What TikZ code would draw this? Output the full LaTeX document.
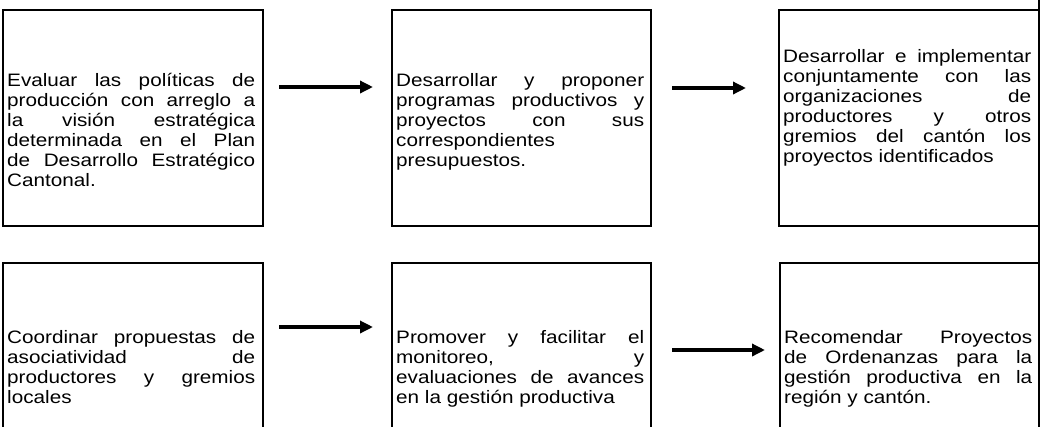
\documentclass[tikz,border=0pt]{standalone}
\usepackage{fontspec}
\setmainfont{Liberation Sans}[FakeStretch=1.15]
\usetikzlibrary{arrows.meta}
\begin{document}
\begin{tikzpicture}[x=1pt,y=-1pt,
  box/.style={draw, line width=2pt, inner sep=0pt, outer sep=0pt, anchor=north west},
  txt/.style={anchor=north west, inner sep=0pt, text width=248pt, align=justify,
    font=\fontsize{18}{20}\selectfont,
    execute at begin node={\tolerance=10000\relax\hbadness=10000\relax\hyphenpenalty=10000\relax\strut}},
  arr/.style={line width=3.5pt, -{Triangle[length=13pt,width=12pt]}}]
\useasboundingbox (0,0) rectangle (1040,426);
\clip (0,0) rectangle (1040,426);
% boxes
\node[box, minimum width=260, minimum height=216] (b1) at (3,10) {};
\node[box, minimum width=259, minimum height=216] (b2) at (392,10) {};
\node[box, minimum width=259.5, minimum height=216] (b3) at (779,10) {};
\node[box, minimum width=260, minimum height=200] (b4) at (3,263) {};
\node[box, minimum width=259, minimum height=200] (b5) at (392,263) {};
\node[box, minimum width=258.5, minimum height=200] (b6) at (780,263) {};
% right border line
\coordinate (rt) at (1038.5,0);
\coordinate (rb) at (1038.5,426);
\draw[line width=2pt] (rt) -- (rb);
% texts (first baseline = top + 14)
\node[txt] (t1) at (7,72) {Evaluar las políticas de\linebreak producción con arreglo a\linebreak la visión estratégica\linebreak determinada en el Plan\linebreak de Desarrollo Estratégico\linebreak Cantonal.};
\node[txt] (t2) at (396,72) {Desarrollar y proponer\linebreak programas productivos y\linebreak proyectos con sus\linebreak correspondientes\linebreak presupuestos.};
\node[txt] (t3) at (783,48) {Desarrollar e implementar\linebreak conjuntamente con las\linebreak organizaciones de\linebreak productores y otros\linebreak gremios del cantón los\linebreak proyectos identificados};
\node[txt] (t4) at (7,329) {Coordinar propuestas de\linebreak asociatividad de\linebreak productores y gremios\linebreak locales};
\node[txt] (t5) at (396,329) {Promover y facilitar el\linebreak monitoreo, y\linebreak evaluaciones de avances\linebreak en la gestión productiva};
\node[txt] (t6) at (784,329) {Recomendar Proyectos\linebreak de Ordenanzas para la\linebreak gestión productiva en la\linebreak región y cantón.};
% arrows
\coordinate (a1s) at (279,87);  \coordinate (a1e) at (373,87);
\coordinate (a2s) at (672,88);  \coordinate (a2e) at (746,88);
\coordinate (a3s) at (279,327); \coordinate (a3e) at (373,327);
\coordinate (a4s) at (672,350); \coordinate (a4e) at (765,350);
\draw[arr] (a1s) -- (a1e);
\draw[arr] (a2s) -- (a2e);
\draw[arr] (a3s) -- (a3e);
\draw[arr] (a4s) -- (a4e);
\end{tikzpicture}
\end{document}
